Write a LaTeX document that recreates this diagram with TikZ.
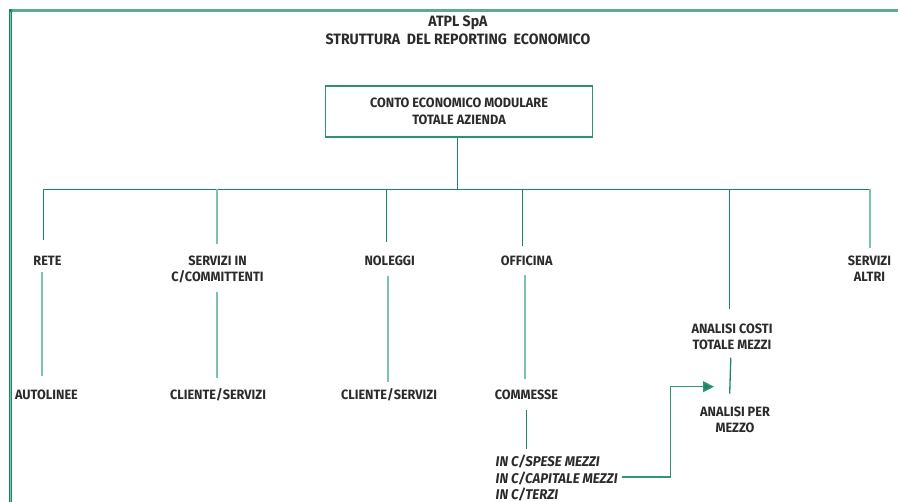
\documentclass[tikz,border=0pt]{standalone}
\usepackage{fontspec}
\setmainfont{Fira Sans}[FakeStretch=0.94]
\usetikzlibrary{arrows.meta}
\definecolor{tealdk}{HTML}{1B8566}
\definecolor{teallt}{HTML}{7CC3AF}
\definecolor{tealfr}{HTML}{5AAB96}
\definecolor{ink}{HTML}{2B2B2B}
\begin{document}
\begin{tikzpicture}[x=1pt,y=-1pt,
  lbl/.style={font=\fontsize{13.5}{16.5}\selectfont\bfseries, text=ink,
    inner sep=0pt, outer sep=0pt, anchor=base, align=center},
  ital/.style={font=\fontsize{14.1}{16.5}\selectfont\bfseries\itshape, text=ink,
    inner sep=0pt, outer sep=0pt, anchor=base west},
  dk/.style={draw=tealdk, line width=1.3pt},
  lt/.style={draw=teallt, line width=1.8pt},
  mainbox/.style={draw=tealdk!80!teallt, line width=1.4pt, minimum width=267pt,
    minimum height=51pt, inner sep=0pt, align=center,
    font=\fontsize{13.5}{17}\selectfont\bfseries, text=ink},
  arr/.style={draw=tealdk!75!teallt, line width=1.4pt,
    -{Triangle[length=11pt,width=11pt,fill=tealdk]}}]
\useasboundingbox (0,0) rectangle (898,502);

% page frame
\draw[tealfr, line width=3pt] (9,10.5) -- (898,10.5);
\draw[tealdk, line width=3pt] (10.5,9) -- (10.5,502);
\draw[teallt, line width=1pt] (10.5,12) -- (10.5,502);

% title (base anchor sits on the last line)
\node[lbl, font=\fontsize{15}{18}\selectfont\bfseries] (title) at (458,45)
  {ATPL SpA\\STRUTTURA\ \ DEL REPORTING\ \ ECONOMICO};

% top level
\node[mainbox] (main) at (459,111.7) {CONTO ECONOMICO MODULARE\\TOTALE AZIENDA};

% second level
\node[lbl] (rete)     at (47.5,266)  {RETE};
\node[lbl] (servin)   at (217.5,282) {SERVIZI IN\\C/COMMITTENTI};
\node[lbl] (noleggi)  at (389.7,266) {NOLEGGI};
\node[lbl] (officina) at (526.7,266) {OFFICINA};
\node[lbl] (costi)    at (732,350)   {ANALISI COSTI\\TOTALE MEZZI};
\node[lbl] (altri)    at (869.5,282) {SERVIZI\\ALTRI};

% third level
\node[lbl] (autolinee) at (46.5,400) {AUTOLINEE};
\node[lbl] (cliente1)  at (218,400)  {CLIENTE/SERVIZI};
\node[lbl] (cliente2)  at (389,400)  {CLIENTE/SERVIZI};
\node[lbl] (commesse)  at (526.5,400) {COMMESSE};
\node[lbl] (per)       at (735,432.7) {ANALISI PER\\MEZZO};

% job order accounts
\node[ital] (spese)    at (495.7,466.7) {IN C/SPESE MEZZI};
\node[ital] (capitale) at (495.7,483.3) {IN C/CAPITALE MEZZI};
\node[ital] (terzi)    at (495.7,500)   {IN C/TERZI};

% bus
\coordinate (bus) at (457.7,189.3);
\coordinate (b1) at (43.3,189.3);
\coordinate (b2) at (217,189.3);
\coordinate (b3) at (386.3,189.3);
\coordinate (b4) at (522.3,189.3);
\coordinate (b5) at (729.7,189.3);
\coordinate (b6) at (869.7,189.3);

\draw[dk] (main.south -| bus) -- (bus);
\draw[dk] (b1) -- (b6);

\draw[dk, shorten >=16.7pt] (b1) -- (b1 |- rete.north);
\draw[lt, shorten >=11.7pt] (b2) -- (b2 |- servin.north);
\draw[dk, shorten >=14.4pt] (b3) -- (b3 |- noleggi.north);
\draw[dk, shorten >=10pt]   (b4) -- (b4 |- officina.north);
\draw[dk, shorten >=14.7pt] (b5) -- (b5 |- costi.north);
\draw[lt, shorten >=8.4pt]  (b6) -- (b6 |- altri.north);

% lower links
\coordinate (c1) at (42,0);
\coordinate (c3) at (387.7,0);
\coordinate (c4) at (525,0);
\coordinate (c5) at (526.7,0);
\draw[lt, shorten <=6.3pt, shorten >=14pt]    (c1 |- rete.south) -- (c1 |- autolinee.north);
\draw[lt, shorten <=8.4pt, shorten >=11.2pt]  (b2 |- servin.south) -- (b2 |- cliente1.north);
\draw[lt, shorten <=10pt, shorten >=7.2pt]    (c3 |- noleggi.south) -- (c3 |- cliente2.north);
\draw[lt, shorten <=9pt, shorten >=11.4pt]    (c4 |- officina.south) -- (c4 |- commesse.north);
\draw[dk, shorten <=10pt, shorten >=5.8pt]    (c5 |- commesse.south) -- (c5 |- spese.north);
\draw[dk, shorten <=7.3pt, shorten >=13.1pt]  ([xshift=-1pt]costi.south) -- ([xshift=-5.7pt]per.north);

% transfer to per-vehicle analysis
\coordinate (turn) at (670.7,0);
\coordinate (tip) at (714,386.7);
\draw[arr] ([xshift=4pt,yshift=1.2pt]capitale.east) -- ([yshift=1.2pt]capitale.east -| turn) -- (turn |- tip) -- (tip);
\end{tikzpicture}
\end{document}
